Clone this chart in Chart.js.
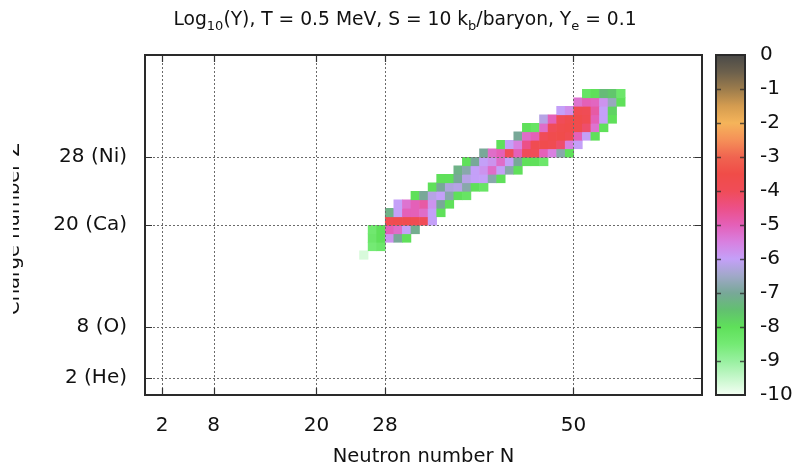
<!DOCTYPE html>
<html><head><meta charset="utf-8">
<script src="https://cdn.jsdelivr.net/npm/chart.js@4.4.1/dist/chart.umd.min.js"></script>
<style>html,body{margin:0;padding:0;background:#fff;}#wrap{width:794px;height:472px;}</style>
</head><body><div id="wrap"><canvas id="c" width="794" height="472"></canvas></div>
<script>
// ---- data ----
const X_TICKS = [2, 8, 20, 28, 50];
const Y_TICKS = [2, 8, 20, 28];
const Y_TICK_LABELS = ['2 (He)', '8 (O)', '20 (Ca)', '28 (Ni)'];
const CB_TICKS = [0, -1, -2, -3, -4, -5, -6, -7, -8, -9, -10];
// each row: charge number Z, first neutron number N, log10(Y) for N, N+1, ...
const Z_ROWS  = [16, 17, 18, 19, 20, 21, 22, 23, 24, 25, 26, 27, 28, 29, 30, 31, 32, 33, 34, 35];
const N_FIRST = [25, 26, 26, 26, 28, 28, 29, 31, 33, 34, 36, 37, 39, 41, 43, 44, 46, 48, 50, 51];
const LOG_Y = [
  [-9.7],
  [-8.5, -8.3],
  [-8.3, -8.0, -5.8, -7.0, -8.0],
  [-8.4, -8.0, -5.0, -5.2, -6.0, -7.1],
  [-3.8, -3.7, -3.7, -3.8, -4.0, -6.0],
  [-7.2, -6.0, -5.0, -5.0, -5.2, -6.0, -8.0],
  [-6.0, -5.3, -5.0, -4.8, -5.8, -7.0, -8.0],
  [-8.0, -7.0, -6.2, -6.0, -6.8, -8.0, -8.2],
  [-8.0, -7.0, -6.3, -6.2, -6.8, -8.0, -8.2],
  [-8.0, -8.0, -7.0, -6.2, -6.0, -6.0, -6.8, -8.0],
  [-7.2, -6.8, -6.0, -5.8, -5.2, -6.0, -6.8, -8.0],
  [-8.0, -7.0, -6.0, -5.8, -5.2, -6.0, -7.0, -8.0, -8.0, -8.3],
  [-7.0, -5.2, -5.0, -4.0, -5.0, -4.0, -4.0, -5.0, -5.5, -6.8, -8.0],
  [-8.0, -6.0, -5.5, -4.5, -3.8, -3.7, -3.8, -4.2, -5.5, -6.0],
  [-7.0, -5.2, -5.0, -4.0, -3.7, -3.6, -3.8, -5.0, -6.0, -8.0],
  [-8.0, -8.2, -5.2, -4.0, -3.7, -3.6, -3.7, -4.2, -5.3, -8.0],
  [-6.2, -5.0, -4.0, -3.7, -3.6, -3.8, -5.0, -6.0, -8.0],
  [-6.0, -5.7, -3.8, -3.9, -4.8, -6.0, -7.8],
  [-5.3, -5.0, -5.1, -5.8, -6.6, -8.0],
  [-8.2, -8.0, -7.4, -7.6, -8.3]
];

// ---- palette (value -> colour) ----
const PALETTE = [
  [-10, '#f4fff4'], [-9.5, '#c6f7cb'], [-9, '#98f0a0'], [-8.5, '#74ea74'], [-8, '#5fe05a'],
  [-7.5, '#62c070'], [-7, '#78a898'], [-6.5, '#a0a8c8'], [-6, '#c4a0f8'], [-5.5, '#d880e0'],
  [-5, '#e460b8'], [-4.5, '#ec5088'], [-4, '#f04c58'], [-3.5, '#f04c48'], [-3, '#f06450'],
  [-2.5, '#f59058'], [-2, '#f5b45a'], [-1.5, '#d49c50'], [-1, '#9c7c4c'], [-0.5, '#6c604c'], [0, '#4a4a48']
];
function hex2rgb(h){return [parseInt(h.substr(1,2),16),parseInt(h.substr(3,2),16),parseInt(h.substr(5,2),16)];}
function colorFor(v){
  v = Math.max(-10, Math.min(0, v));
  for (let i = 0; i < PALETTE.length - 1; i++) {
    const [v0, c0] = PALETTE[i], [v1, c1] = PALETTE[i + 1];
    if (v >= v0 && v <= v1) {
      const t = (v - v0) / (v1 - v0), a = hex2rgb(c0), b = hex2rgb(c1);
      return 'rgb(' + a.map((x, k) => Math.round(x + (b[k] - x) * t)).join(',') + ')';
    }
  }
  return PALETTE[PALETTE.length - 1][1];
}

const points = [];
Z_ROWS.forEach((z, r) => LOG_Y[r].forEach((v, k) => {
  const n = N_FIRST[r] + k;
  points.push({x: n + 0.5, y: z + 0.5, n: n, z: z, v: v});
}));

const FONT = "'DejaVu Sans', 'Liberation Sans', sans-serif";
const FS = 20;      // tick labels
const FS_AX = 19.5; // axis titles
const FS_T = 18.7;  // main title
const TXT = '#111';

const heatPlugin = {
  id: 'heat',
  beforeDatasetsDraw(chart) {
    const {ctx, chartArea: a, scales: {x, y}} = chart;
    ctx.save();
    ctx.beginPath(); ctx.rect(a.left, a.top, a.right - a.left, a.bottom - a.top); ctx.clip();
    chart.data.datasets[0].data.forEach(p => {
      const x0 = x.getPixelForValue(p.n), x1 = x.getPixelForValue(p.n + 1);
      const y0 = y.getPixelForValue(p.z + 1), y1 = y.getPixelForValue(p.z);
      ctx.fillStyle = colorFor(p.v);
      ctx.fillRect(x0, y0, x1 - x0 + 0.6, y1 - y0 + 0.6);
    });
    // dotted grid
    ctx.strokeStyle = '#6a6a6a'; ctx.lineWidth = 1; ctx.setLineDash([2, 2]);
    X_TICKS.forEach(v => { const px = Math.round(x.getPixelForValue(v)) + 0.5;
      ctx.beginPath(); ctx.moveTo(px, a.top); ctx.lineTo(px, a.bottom); ctx.stroke(); });
    Y_TICKS.forEach(v => { const py = Math.round(y.getPixelForValue(v)) + 0.5;
      ctx.beginPath(); ctx.moveTo(a.left, py); ctx.lineTo(a.right, py); ctx.stroke(); });
    ctx.restore();
  },
  afterDatasetsDraw(chart) {
    const {ctx, chartArea: a, scales: {x, y, cb}} = chart;
    ctx.save();
    // inward tick marks
    ctx.strokeStyle = '#333'; ctx.lineWidth = 1.2;
    X_TICKS.forEach(v => { const px = Math.round(x.getPixelForValue(v)) + 0.5;
      ctx.beginPath(); ctx.moveTo(px, a.bottom); ctx.lineTo(px, a.bottom - 7);
      ctx.moveTo(px, a.top); ctx.lineTo(px, a.top + 7); ctx.stroke(); });
    Y_TICKS.forEach(v => { const py = Math.round(y.getPixelForValue(v)) + 0.5;
      ctx.beginPath(); ctx.moveTo(a.left, py); ctx.lineTo(a.left + 7, py);
      ctx.moveTo(a.right, py); ctx.lineTo(a.right - 7, py); ctx.stroke(); });
    // frame
    ctx.strokeStyle = '#2a2a2a'; ctx.lineWidth = 2;
    ctx.strokeRect(a.left, a.top, a.right - a.left, a.bottom - a.top);
    // colour bar
    const cx0 = cb.left + 14, cx1 = cb.left + 43;
    const cyTop = cb.getPixelForValue(0), cyBot = cb.getPixelForValue(-10);
    const g = ctx.createLinearGradient(0, cyBot, 0, cyTop);
    PALETTE.forEach(([v, c]) => g.addColorStop((v + 10) / 10, c));
    ctx.fillStyle = g; ctx.fillRect(cx0, cyTop, cx1 - cx0, cyBot - cyTop);
    ctx.strokeStyle = 'rgba(40,40,40,0.75)'; ctx.lineWidth = 1.5;
    CB_TICKS.forEach(v => { if (v === 0 || v === -10) return;
      const py = Math.round(cb.getPixelForValue(v)) + 0.5;
      ctx.beginPath(); ctx.moveTo(cx0, py); ctx.lineTo(cx0 + 5, py);
      ctx.moveTo(cx1, py); ctx.lineTo(cx1 - 5, py); ctx.stroke(); });
    ctx.strokeStyle = '#2a2a2a'; ctx.lineWidth = 2;
    ctx.strokeRect(cx0, cyTop, cx1 - cx0, cyBot - cyTop);
    // title with subscripts
    const parts = [['Log', 0], ['10', 1], ['(Y), T = 0.5 MeV, S = 10 k', 0], ['b', 1], ['/baryon, Y', 0], ['e', 1], [' = 0.1', 0]];
    const fMain = FS_T + 'px ' + FONT, fSub = Math.round(FS_T * 0.72) + 'px ' + FONT;
    let w = 0;
    parts.forEach(([t, s]) => { ctx.font = s ? fSub : fMain; w += ctx.measureText(t).width; });
    let tx = 405 - w / 2; const ty = 25;
    ctx.fillStyle = TXT; ctx.textBaseline = 'alphabetic'; ctx.textAlign = 'left';
    parts.forEach(([t, s]) => { ctx.font = s ? fSub : fMain; ctx.fillText(t, tx, ty + (s ? 5 : 0)); tx += ctx.measureText(t).width; });
    // y-axis title (partly cut at the left edge, as in the figure)
    ctx.save();
    ctx.beginPath(); ctx.rect(13, 0, 120, chart.height); ctx.clip();
    ctx.translate(19, (a.top + a.bottom) / 2 + 4); ctx.rotate(-Math.PI / 2);
    ctx.font = FS_AX + 'px ' + FONT; ctx.textAlign = 'center'; ctx.textBaseline = 'alphabetic';
    ctx.fillText('Charge number Z', 0, 0);
    ctx.restore();
    ctx.restore();
  }
};

new Chart(document.getElementById('c'), {
  type: 'scatter',
  data: { datasets: [{ data: points, pointRadius: 0, pointHoverRadius: 0, showLine: false }] },
  options: {
    responsive: false, animation: false, events: [],
    layout: { padding: { top: 55, left: 0, right: 0, bottom: 0 } },
    plugins: { legend: { display: false }, tooltip: { enabled: false }, title: { display: false } },
    scales: {
      x: {
        type: 'linear', position: 'bottom', min: 0, max: 65,
        afterBuildTicks: s => { s.ticks = X_TICKS.map(v => ({ value: v })); },
        afterFit: s => { s.height = 77; s.paddingLeft = 0; s.paddingRight = 0; },
        grid: { display: false, drawTicks: false }, border: { display: false },
        ticks: { autoSkip: false, maxRotation: 0, padding: 19, color: TXT, font: { family: FONT, size: FS } },
        title: { display: true, text: 'Neutron number N', color: TXT, font: { family: FONT, size: FS_AX }, padding: { top: 0, bottom: 3 } }
      },
      y: {
        type: 'linear', position: 'left', min: 0, max: 40,
        afterBuildTicks: s => { s.ticks = Y_TICKS.map(v => ({ value: v })); },
        afterFit: s => { s.width = 145; s.paddingTop = 0; s.paddingBottom = 0; },
        grid: { display: false, drawTicks: false }, border: { display: false },
        ticks: { autoSkip: false, padding: 18, color: TXT, font: { family: FONT, size: FS },
          callback: (v) => { const i = Y_TICKS.indexOf(v); return i >= 0 ? Y_TICK_LABELS[i] : ''; } }
      },
      cb: {
        type: 'linear', position: 'right', min: -10, max: 0,
        afterBuildTicks: s => { s.ticks = CB_TICKS.map(v => ({ value: v })); },
        afterFit: s => { s.width = 92; s.paddingTop = 0; s.paddingBottom = 0; },
        grid: { display: false, drawTicks: false }, border: { display: false },
        ticks: { autoSkip: false, padding: 58, color: TXT, font: { family: FONT, size: FS } }
      }
    }
  },
  plugins: [heatPlugin]
});
</script></body></html>
